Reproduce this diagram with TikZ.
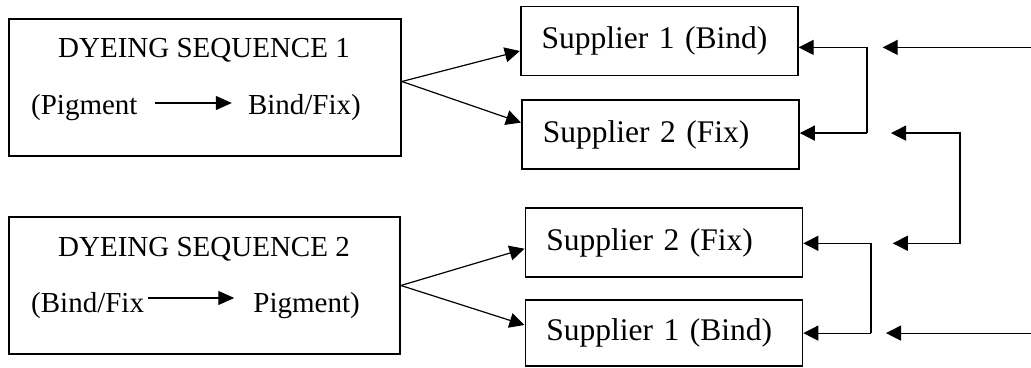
\documentclass[tikz,border=0pt]{standalone}
\usepackage{fontspec}
\setmainfont{Liberation Serif}
\usetikzlibrary{arrows.meta}

\tikzset{
    caja/.style={draw, line width=1.8pt, inner sep=0pt},
    flecha/.style={line width=1.2pt, -{Triangle[length=15pt,width=15pt]}},
    sec/.style={font=\fontsize{29}{34}\selectfont, inner sep=0pt},
    prov/.style={caja, minimum width=277pt, minimum height=69pt,
        font=\fontsize{31.5}{36}\selectfont, text width=235pt, align=left}
}

\begin{document}
\begin{tikzpicture}[x=1pt,y=1pt]
    \useasboundingbox (0,0) rectangle (1031,367);

    % Cajas de las secuencias
    \node[caja, minimum width=392pt, minimum height=137pt] (seq1) at (205,279.5) {};
    \node[caja, minimum width=391pt, minimum height=137pt] (seq2) at (204.5,81.5) {};

    % Textos de la secuencia 1
    \node[sec, anchor=base] (tit1) at (204,309) {DYEING SEQUENCE 1};
    \node[sec, anchor=base west] (pig1) at (31,252) {(Pigment};
    \node[sec, anchor=base east] (bf1) at (361,252) {Bind/Fix)};
    \draw[line width=1.2pt, -{Triangle[length=16pt,width=14pt]}, shorten <=17pt, shorten >=16pt]
        ([yshift=12pt]pig1.base east) -- ([yshift=12pt]bf1.base west);

    % Textos de la secuencia 2
    \node[sec, anchor=base] (tit2) at (204,110) {DYEING SEQUENCE 2};
    \node[sec, anchor=base west] (bf2) at (31,54) {(Bind/Fix};
    \node[sec, anchor=base east] (pig2) at (360,54) {Pigment)};
    \draw[line width=1.2pt, -{Triangle[length=16pt,width=14pt]}, shorten <=4pt, shorten >=19pt]
        ([yshift=15pt]bf2.base east) -- ([yshift=15pt]pig2.base west);

    % Proveedores
    \node[prov] (s1a) at (659.2,326) {Supplier 1 (Bind)};
    \node[prov] (s2a) at (660.4,232.4) {Supplier 2 (Fix)};
    \node[prov] (s2b) at (663.9,124.3) {Supplier 2 (Fix)};
    \node[prov, minimum height=66pt] (s1b) at (663.9,34) {Supplier 1 (Bind)};

    % Flechas de las secuencias a los proveedores
    \draw[flecha] ([yshift=6pt]seq1.east) -- ([yshift=-10pt]s1a.west);
    \draw[flecha] ([yshift=6pt]seq1.east) -- ([yshift=12pt]s2a.west);
    \draw[flecha] (seq2.east) -- ([yshift=-6pt]s2b.west);
    \draw[flecha] (seq2.east) -- ([yshift=8pt]s1b.west);

    % Corchetes a la derecha de los proveedores
    \coordinate (j1) at (867,319.6);
    \coordinate (j2) at (867,233.9);
    \coordinate (j3) at (871,123.7);
    \coordinate (j4) at (871,33.9);
    \draw[flecha] (j1) -- (s1a.east |- j1);
    \draw[line width=1.2pt] (j1) -- (j2);
    \draw[flecha] (j2) -- (s2a.east |- j2);
    \draw[flecha] (j3) -- (s2b.east |- j3);
    \draw[line width=1.2pt] (j3) -- (j4);
    \draw[flecha] (j4) -- (s1b.east |- j4);

    % Flechas de entrada
    \coordinate (r1) at (1031,319.6);
    \coordinate (p1) at (882.7,319.6);
    \draw[flecha] (r1) -- (p1);
    \coordinate (p2) at (891,233.9);
    \coordinate (k1) at (960,233.9);
    \coordinate (k2) at (960,123.7);
    \coordinate (p3) at (892.8,123.7);
    \draw[flecha, {Triangle[length=15pt,width=15pt]}-{Triangle[length=15pt,width=15pt]}]
        (p2) -- (k1) -- (k2) -- (p3);
    \coordinate (r2) at (1031,33.9);
    \coordinate (p4) at (886,33.9);
    \draw[flecha] (r2) -- (p4);
\end{tikzpicture}
\end{document}
